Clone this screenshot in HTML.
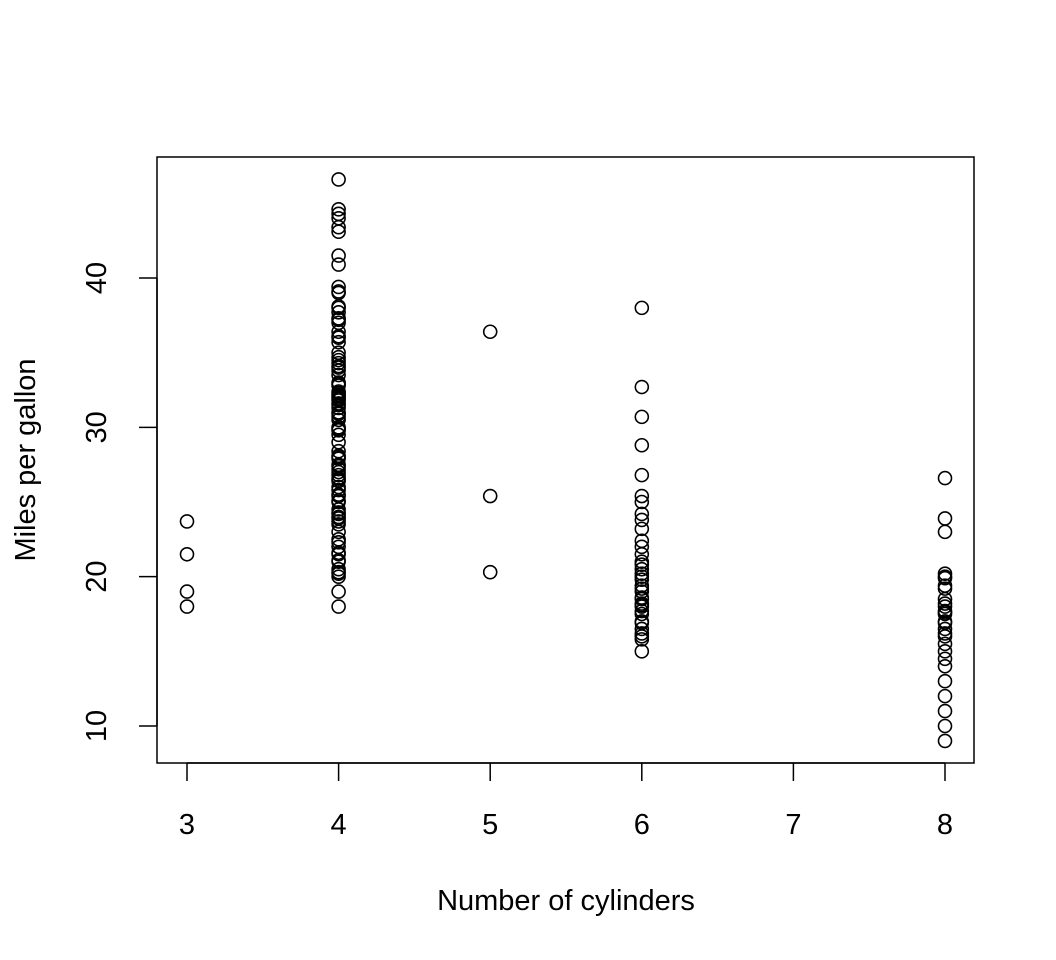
<!DOCTYPE html>
<html><head><meta charset="utf-8"><style>body{margin:0;background:#fff}svg{display:block}text{font-family:"Liberation Sans",Arial,sans-serif;fill:#000}</style></head>
<body>
<svg id="chart" width="1056" height="960" xmlns="http://www.w3.org/2000/svg">
<rect x="157" y="157" width="817" height="606" fill="none" stroke="#000" stroke-width="1.5"/>
<g id="xaxis"></g>
<g id="yaxis"></g>
<g id="points"></g>
<text x="566" y="910" font-size="29" text-anchor="middle">Number of cylinders</text>
<text transform="translate(35,460) rotate(-90)" font-size="29" text-anchor="middle">Miles per gallon</text>
</svg>
<script>
const xTicks=[3,4,5,6,7,8];
const yTicks=[10,20,30,40];
const cyl3=[18,19,21.5,23.7];
const cyl4=[46.6,44.6,44.3,44,43.4,43.1,41.5,40.9,39.4,39.1,39,38.1,38,37.7,37.3,37.2,37,36.4,36.1,36,35.7,35,34.7,34.5,34.3,34.1,34,33.8,33.5,33,32.9,32.8,32.4,32.3,32.2,32.1,32,31.9,31.8,31.6,31.5,31.3,31,30.9,30.7,30.5,30,29.9,29.8,29.5,29,28.4,28.1,28,27.9,27.5,27.4,27.2,27,26.8,26.6,26.5,26.4,26,25.8,25.5,25.4,25.1,25,24.5,24.3,24.2,24,23.9,23.7,23.5,23,22.5,22.3,22,21.6,21.5,21.1,21,20.5,20.3,20.2,20,19,18];
const cyl5=[20.3,25.4,36.4];
const cyl6=[38,32.7,30.7,28.8,26.8,25.4,25,24.2,23.8,23.2,22.4,22,21.5,21,20.8,20.5,20.2,20,19.8,19.4,19.2,19,18.6,18.5,18.2,18.1,18,17.7,17.5,17,16.9,16.5,16.2,16,15.8,15];
const cyl8=[26.6,23.9,23,20.2,20,19.9,19.4,19.2,18.5,18.2,18,17.7,17.6,17.5,17,16.9,16.5,16.2,16,15.5,15,14.5,14,13,12,11,10,9];
const groups=[[3,cyl3],[4,cyl4],[5,cyl5],[6,cyl6],[8,cyl8]];
const NS="http://www.w3.org/2000/svg";
const xs=v=>187+(v-3)*(945-187)/5;
const ys=v=>726-(v-10)*(726-278)/30;
function mk(t,a,p){const e=document.createElementNS(NS,t);for(const k in a)e.setAttribute(k,a[k]);p.appendChild(e);return e;}
const xa=document.getElementById('xaxis'),ya=document.getElementById('yaxis'),pg=document.getElementById('points');
mk('line',{x1:xs(3),x2:xs(8),y1:763,y2:763,stroke:'#000','stroke-width':1.5},xa);
xTicks.forEach(v=>{
 const l=mk('line',{x1:xs(v),x2:xs(v),y1:763,y2:781,stroke:'#000','stroke-width':1.5},xa);
 
 
 const t=mk('text',{x:xs(v),y:834,'font-size':29,'text-anchor':'middle'},xa);t.textContent=v;
 
 
});
mk('line',{x1:157,x2:157,y1:ys(10),y2:ys(40),stroke:'#000','stroke-width':1.5},ya);
yTicks.forEach(v=>{
 const l=mk('line',{x1:139,x2:157,y1:ys(v),y2:ys(v),stroke:'#000','stroke-width':1.5},ya);
 
 
 const t=mk('text',{transform:`translate(106,${ys(v)}) rotate(-90)`,'font-size':29,'text-anchor':'middle'},ya);t.textContent=v;
 
 
});
groups.forEach(([c,arr])=>arr.forEach(v=>{
 const p=mk('circle',{cx:xs(c),cy:ys(v),r:6.5,fill:'none',stroke:'#000','stroke-width':1.6},pg);
 
 
}));
</script>
</body></html>
